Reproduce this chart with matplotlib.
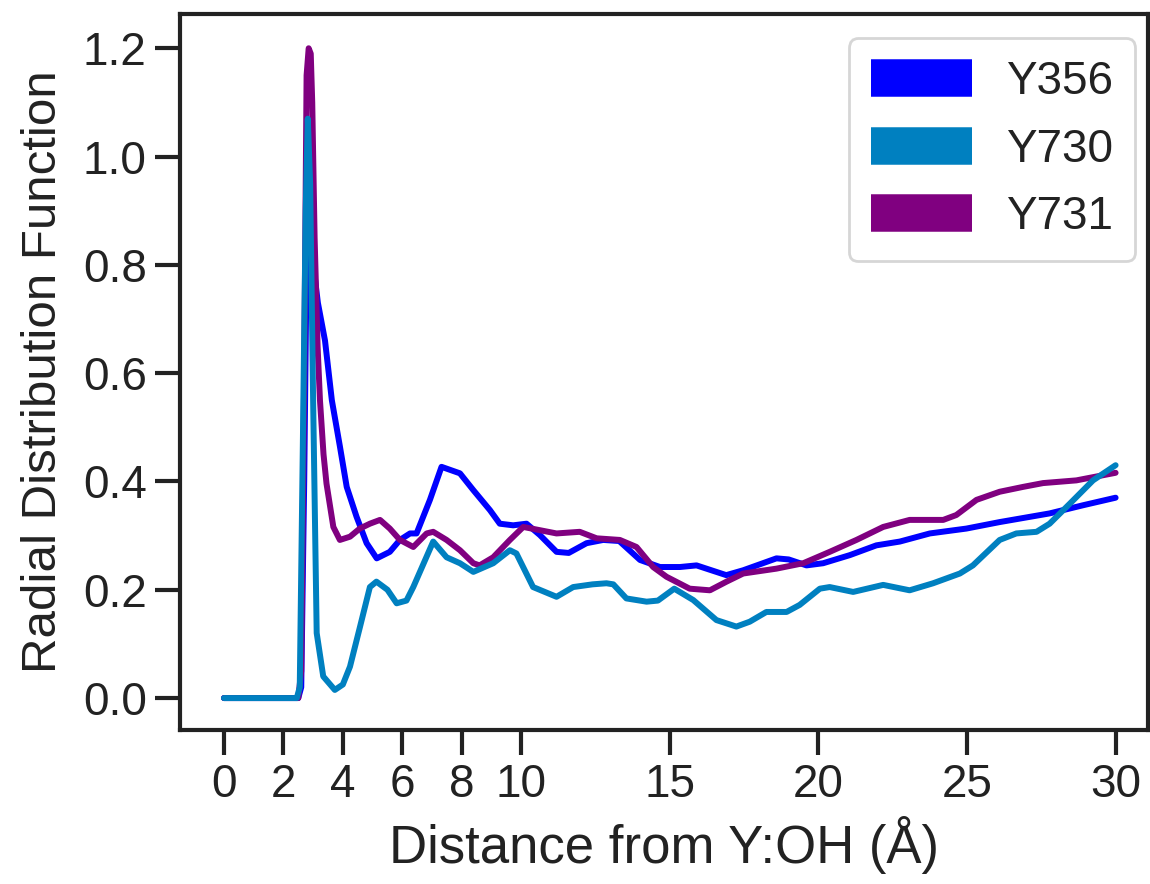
import matplotlib
matplotlib.use("Agg")
import matplotlib.pyplot as plt
from matplotlib.lines import Line2D

plt.rcParams['font.family'] = ['Liberation Sans', 'DejaVu Sans']

# Data (distance in Å, RDF values)
y356_x = [0.0, 2.5, 2.6, 2.7, 2.8, 2.88, 2.95, 3.05, 3.16, 3.4, 3.63, 3.9, 4.13, 4.46, 4.8, 5.14,
          5.58, 5.92, 6.26, 6.48, 6.93, 7.32, 7.94, 8.39, 8.95, 9.28, 9.73, 10.18, 10.63, 11.19,
          11.6, 12.2, 12.76, 13.3, 14.0, 14.67, 15.34, 15.9, 16.9, 17.47, 18.59, 19.0, 19.6,
          20.16, 21.06, 21.95, 22.74, 23.75, 24.98, 26.1, 27.78, 28.9, 30.0]
y356_y = [0.0, 0.0, 0.02, 0.4, 0.9, 1.02, 0.92, 0.78, 0.73, 0.66, 0.55, 0.465, 0.39, 0.335, 0.286,
          0.258, 0.27, 0.292, 0.304, 0.304, 0.366, 0.427, 0.415, 0.384, 0.347, 0.322, 0.319, 0.322,
          0.301, 0.27, 0.268, 0.286, 0.292, 0.29, 0.255, 0.242, 0.242, 0.245, 0.227, 0.236, 0.258,
          0.256, 0.245, 0.249, 0.264, 0.282, 0.289, 0.304, 0.313, 0.325, 0.341, 0.356, 0.370]

y730_x = [0.0, 2.45, 2.55, 2.65, 2.75, 2.82, 2.9, 3.0, 3.12, 3.34, 3.73, 4.0, 4.24, 4.57, 4.91,
          5.13, 5.5, 5.81, 6.14, 6.37, 7.04, 7.49, 7.94, 8.39, 9.06, 9.62, 9.84, 10.4, 11.19,
          11.75, 12.4, 12.87, 13.1, 13.54, 14.22, 14.6, 15.15, 15.79, 16.57, 17.24, 17.69, 18.25,
          18.93, 19.37, 20.05, 20.38, 21.17, 22.18, 23.07, 23.86, 24.76, 25.2, 26.1, 26.66,
          27.34, 27.78, 28.46, 29.24, 30.0]
y730_y = [0.0, 0.0, 0.02, 0.45, 0.9, 1.07, 0.95, 0.55, 0.12, 0.04, 0.015, 0.025, 0.058, 0.13,
          0.205, 0.215, 0.2, 0.175, 0.18, 0.205, 0.289, 0.26, 0.249, 0.233, 0.249, 0.273, 0.267,
          0.205, 0.187, 0.205, 0.21, 0.212, 0.21, 0.184, 0.178, 0.18, 0.202, 0.181, 0.144, 0.132,
          0.141, 0.159, 0.159, 0.172, 0.202, 0.205, 0.196, 0.209, 0.199, 0.212, 0.230, 0.245,
          0.292, 0.304, 0.307, 0.322, 0.359, 0.402, 0.430]

y731_x = [0.0, 2.5, 2.6, 2.7, 2.78, 2.85, 2.92, 2.97, 3.05, 3.15, 3.23, 3.35, 3.45, 3.68, 3.9,
          4.24, 4.57, 4.91, 5.25, 5.58, 5.92, 6.37, 6.82, 7.04, 7.49, 7.94, 8.39, 8.6, 9.06, 9.62,
          10.07, 10.63, 11.19, 11.97, 12.54, 13.32, 13.88, 14.44, 14.89, 15.67, 16.35, 16.91,
          17.47, 18.59, 19.49, 20.38, 21.28, 22.18, 23.07, 24.2, 24.64, 25.32, 26.1, 26.89,
          27.56, 28.68, 30.0]
y731_y = [0.0, 0.0, 0.05, 0.6, 1.15, 1.2, 1.19, 1.1, 0.85, 0.65, 0.55, 0.45, 0.396, 0.316, 0.292,
          0.298, 0.313, 0.322, 0.329, 0.313, 0.292, 0.279, 0.304, 0.307, 0.292, 0.273, 0.249,
          0.245, 0.26, 0.292, 0.316, 0.31, 0.304, 0.307, 0.295, 0.292, 0.279, 0.242, 0.224,
          0.202, 0.199, 0.215, 0.23, 0.239, 0.249, 0.27, 0.292, 0.316, 0.329, 0.329, 0.338,
          0.366, 0.381, 0.39, 0.397, 0.402, 0.416]

labels = ["Y356", "Y730", "Y731"]
colors = ["#0000FF", "#0080C0", "#800080"]
xticks = [0, 2, 4, 6, 8, 10, 15, 20, 25, 30]
yticks = [0.0, 0.2, 0.4, 0.6, 0.8, 1.0, 1.2]

fig = plt.figure(figsize=(11.5, 8.84), dpi=100)
ax = fig.add_axes([0.1565, 0.1742, 0.8415, 0.8098])

lw = 4.3
ax.plot(y356_x, y356_y, color=colors[0], lw=lw, solid_capstyle='round', solid_joinstyle='round', zorder=2)
ax.plot(y731_x, y731_y, color=colors[2], lw=lw, solid_capstyle='round', solid_joinstyle='round', zorder=3)
ax.plot(y730_x, y730_y, color=colors[1], lw=lw, solid_capstyle='round', solid_joinstyle='round', zorder=4)

ax.set_xlim(-1.48, 31.08)
ax.set_ylim(-0.059, 1.263)
ax.set_xticks(xticks)
ax.set_xticklabels([str(t) for t in xticks])
ax.set_yticks(yticks)
ax.set_yticklabels([f"{t:.1f}" for t in yticks])
ax.tick_params(axis='both', which='major', labelsize=33, length=18, width=3,
               color='#222222', labelcolor='#222222', pad=6, direction='out')
for s in ax.spines.values():
    s.set_linewidth(3)
    s.set_color('#222222')

ax.set_xlabel("Distance from Y:OH (Å)", fontsize=38, color='#222222', labelpad=6)
ax.set_ylabel("Radial Distribution Function", fontsize=35.5, color='#222222', labelpad=12)

handles = [Line2D([0], [0], color=c, lw=27, solid_capstyle='butt') for c in colors]
leg = ax.legend(handles, labels, loc='upper right', fontsize=33, handlelength=2.2,
                handletextpad=0.75, labelspacing=0.51, borderpad=0.48,
                frameon=True, fancybox=True, bbox_to_anchor=(0.987, 0.966),
                borderaxespad=0)
leg.get_frame().set_edgecolor('#cccccc')
leg.get_frame().set_linewidth(2)
for t in leg.get_texts():
    t.set_color('#222222')

fig.savefig("out.png", dpi=100)
